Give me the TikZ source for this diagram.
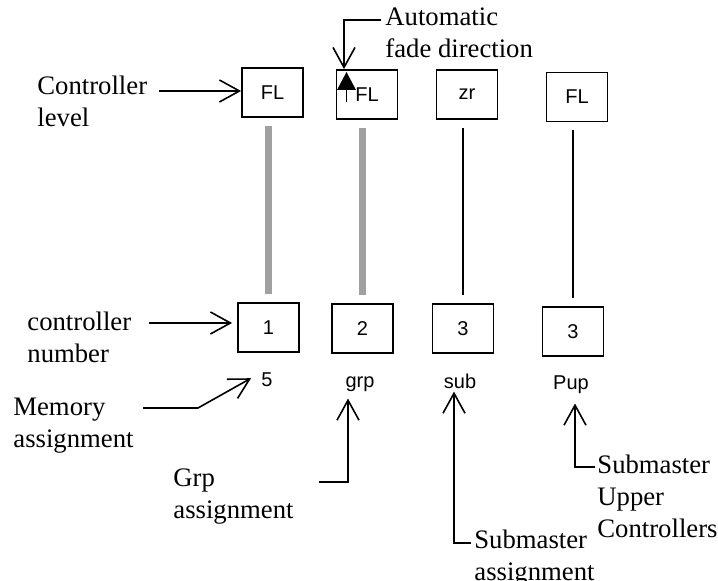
\documentclass[tikz,border=0pt]{standalone}
\usepackage{fontspec}
\setmainfont{Liberation Serif}
\newfontfamily\arialf{Liberation Sans}
\usetikzlibrary{arrows.meta,calc}
\definecolor{barg}{RGB}{160,160,160}
\newcommand{\mlines}[1]{\begin{tabular}[t]{@{}l@{}}#1\end{tabular}}
\begin{document}
\begin{tikzpicture}[x=0.5pt,y=-0.5pt,
 box/.style={draw, line width=0.9pt, inner sep=0, minimum width=30.5pt, minimum height=24.5pt, font=\arialf\fontsize{10}{12}\selectfont},
 sml/.style={anchor=base, inner sep=0, font=\arialf\fontsize{10}{12}\selectfont},
 lbl/.style={anchor=base west, inner sep=0, font=\fontsize{13.35}{16}\selectfont},
 arr/.style={line width=0.8pt, -{Straight Barb[length=10pt,width=11pt,line width=0.8pt]}},
 con/.style={line width=0.8pt},
 gbar/.style={line width=3.5pt, draw=barg, shorten <=4pt, shorten >=4pt},
 thinbar/.style={line width=0.8pt, shorten <=4pt, shorten >=4pt}]
\useasboundingbox (0,0) rectangle (718,581);

% top boxes
\node[box] (t1) at (272.5,92.5) {FL};
\node[box] (t2) at (367,94.5) {FL};
\node[box] (t3) at (467,94.5) {zr};
\node[box] (t4) at (577,97) {FL};
% bottom boxes
\node[box] (b1) at (268.5,327.5) {1};
\node[box] (b2) at (362.5,328.5) {2};
\node[box] (b3) at (463,328.5) {3};
\node[box] (b4) at (573,331.5) {3};

% faders
\draw[gbar] (b1.north |- t1.south) -- (b1.north);
\draw[gbar] (b2.north |- t2.south) -- (b2.north);
\draw[thinbar] (b3.north |- t3.south) -- (b3.north);
\draw[thinbar] (b4.north |- t4.south) -- (b4.north);

% fade direction marker
\fill (337,90) -- (356,90) -- (346.5,72) -- cycle;
\draw[con] (346.5,90) -- (346.5,102);

% assignment labels
\node[sml] (n5) at (267,387) {5};
\node[sml] (ngrp) at (360,388) {grp};
\node[sml] (nsub) at (460,389) {sub};
\node[sml] (npup) at (571,390) {Pup};

% text labels
\node[lbl] (cl) at (37,95) {\mlines{Controller\\level}};
\node[lbl] (af) at (385,26) {\mlines{Automatic\\fade direction}};
\node[lbl] (cn) at (27,331) {\mlines{controller\\number}};
\node[lbl] (ma) at (13,416) {\mlines{Memory\\assignment}};
\node[lbl] (ga) at (173,487) {\mlines{Grp\\assignment}};
\node[lbl] (sa) at (474,549) {\mlines{Submaster\\assignment}};
\node[lbl] (su) at (597,474) {\mlines{Submaster\\Upper\\Controllers}};

% connectors
\coordinate (a1) at (159,91);
\draw[arr] (a1) -- (a1 -| t1.west);
\coordinate (a2) at (381,20);
\draw[arr] (a2) -| ([xshift=-11.5pt]t2.north);
\coordinate (a3) at (149,323);
\draw[arr, shorten >=2.5pt] (a3) -- (a3 -| b1.west);
\coordinate (a4) at (143,408);
\draw[arr] (a4) -- (198,408) -- ([xshift=-5pt,yshift=1pt]n5.west);
\coordinate (a5) at (319,482);
\draw[arr] (a5) -| ([xshift=-6pt,yshift=-3pt]ngrp.south);
\coordinate (a6) at (471,543);
\draw[arr] (a6) -| ([xshift=-3pt,yshift=-1pt]nsub.south);
\coordinate (a7) at (595,467);
\draw[arr] (a7) -| ([xshift=2pt,yshift=-4.5pt]npup.south);
\end{tikzpicture}
\end{document}
